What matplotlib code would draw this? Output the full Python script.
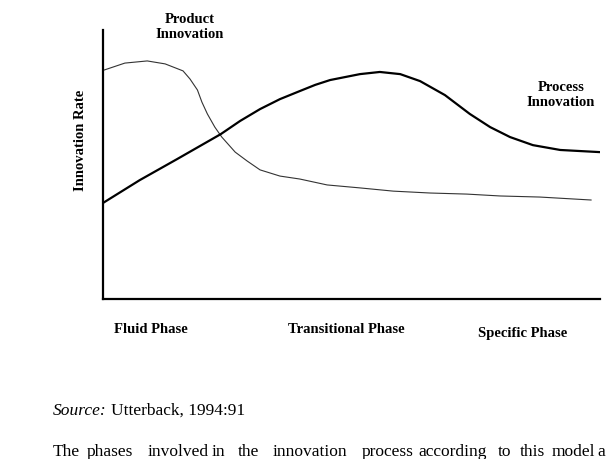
import numpy as np
import matplotlib
matplotlib.use('Agg')
import matplotlib.pyplot as plt

# innovation rate over the life cycle (x: 0-100 timeline, y: 0-100 rate)
product_x = [0.2, 4.4, 8.9, 12.5, 16.1, 17.5, 19.0, 19.9, 21.0, 22.5, 23.9, 26.6, 29.0,
             31.6, 35.6, 39.6, 45.1, 51.7, 58.4, 65.8, 73.2, 79.9, 87.9, 98.2]
product_y = [85.1, 87.7, 88.5, 87.4, 84.8, 81.8, 77.7, 73.2, 68.8, 63.9, 60.2, 54.6, 51.3,
             48.0, 45.7, 44.6, 42.4, 41.3, 40.1, 39.4, 39.0, 38.3, 37.9, 36.8]

process_x = [0.0, 7.4, 14.9, 23.7, 27.6, 31.6, 35.6, 39.6, 42.7, 45.7, 48.7, 51.7, 55.7,
             59.8, 63.8, 68.8, 73.8, 77.9, 81.9, 86.5, 92.0, 96.0, 100.0]
process_y = [35.7, 44.2, 52.0, 61.3, 66.2, 70.6, 74.3, 77.3, 79.6, 81.4, 82.5, 83.6, 84.4,
             83.6, 81.0, 75.8, 68.8, 63.9, 60.2, 57.2, 55.4, 55.0, 54.6]

phases = ['Fluid Phase', 'Transitional Phase', 'Specific Phase']
source_text = 'Utterback, 1994:91'
para_words = ['The', 'phases', 'involved', 'in', 'the', 'innovation', 'process',
              'according', 'to', 'this', 'model', 'a']

W, H = 612, 460
plt.rcParams['font.family'] = ['Liberation Serif', 'DejaVu Serif']

fig = plt.figure(figsize=(W / 100, H / 100), dpi=100)


def fx(px):
    return px / W


def fy(py):
    return 1 - py / H


ax = fig.add_axes([fx(103), fy(300), (600 - 103) / W, (300 - 31) / H])
ax.plot(product_x, product_y, color='#333333', linewidth=0.8)
ax.plot(process_x, process_y, color='black', linewidth=1.6)
ax.set_xlim(0, 100)
ax.set_ylim(0, 100)
ax.set_xticks([])
ax.set_yticks([])
for s in ['top', 'right']:
    ax.spines[s].set_visible(False)
for s in ['left', 'bottom']:
    ax.spines[s].set_linewidth(1.6)
ax.patch.set_alpha(0)

bold = dict(fontweight='bold', fontsize=10.5, ha='center', va='center')
fig.text(fx(80), fy(140), 'Innovation Rate', rotation=90, **bold)
fig.text(fx(190), fy(27), 'Product\nInnovation', linespacing=1.25, **bold)
fig.text(fx(561), fy(95), 'Process\nInnovation', linespacing=1.25, **bold)

for name, px, py in zip(phases, [151, 346, 523], [330, 330, 334]):
    fig.text(fx(px), fy(py), name, **bold)

fig.text(fx(53), fy(411), 'Source:', fontstyle='italic', fontsize=12.5,
         ha='left', va='center')
fig.text(fx(111), fy(411), source_text, fontsize=12.5, ha='left', va='center')

# justified body line, cut at the bottom/right edge of the page
word_x = [53, 87, 148, 212, 238, 273, 362, 418, 498, 520, 552, 597]
for w, px in zip(para_words, word_x):
    fig.text(fx(px), fy(452), w, fontsize=12.5, ha='left', va='center')

fig.savefig('out.png', dpi=100)
